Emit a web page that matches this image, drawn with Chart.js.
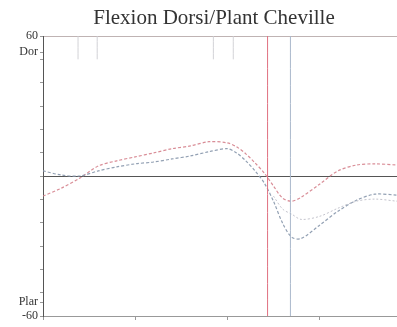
<!DOCTYPE html>
<html>
<head>
<meta charset="utf-8">
<title>Flexion Dorsi/Plant Cheville</title>
<script src="https://cdn.jsdelivr.net/npm/chart.js"></script>
<style>
  body { margin: 0; background: #fff; }
  #wrap { width: 397px; height: 327px; }
</style>
</head>
<body>
<div id="wrap"><canvas id="chevilleChart"></canvas></div>
<script>
const chartTitle = 'Flexion Dorsi/Plant Cheville';

// % of gait cycle
const pct = [0, 5, 10, 15, 20, 25, 30, 35, 40, 45, 50, 52.5, 55, 57.5, 60, 62.5, 65, 67.5, 70, 75, 80, 85, 90, 96];

// ankle angle (deg), dorsi > 0, plantar < 0
const flexRed   = [-8.6, -5.2, -0.9, 4.3, 6.5, 8.2, 9.9, 11.7, 12.9, 14.7, 14.2, 12.5, 9.5, 5.6, 1.3, -4.3, -9.5, -10.8, -9.1, -3.5, 2.2, 4.7, 5.2, 4.7];
const flexGray  = [2.2, 0.4, 0, 2.2, 3.9, 5.2, 6.0, 7.3, 8.6, 10.4, 11.7, 9.9, 6.5, 2.2, -3.0, -10.8, -20.3, -26.3, -26.8, -21.1, -15.1, -10.4, -7.8, -8.2];
const flexLight = [null, null, null, null, null, null, null, null, null, null, null, null, null, null, null, -8.6, -14.2, -16.4, -18.6, -17.3, -13.8, -10.8, -9.9, -10.8];

// toe-off markers and small event marks at the top
const toeOffRed = 60.9;
const toeOffGray = 67.1;
const eventMarks = [9.5, 14.7, 46.2, 51.6];

const yTicks = [-60, -54, -50, -40, -30, -20, -10, 0, 10, 20, 30, 40, 50, 53, 60];
const yLabels = { '60': '60', '53': 'Dor', '-54': 'Plar', '-60': '-60' };
const xTicks = [0, 25, 50, 75];

const toPoints = (vals) => pct.map((p, i) => ({ x: p, y: vals[i] }));
const vLine = (x, top, bottom) => [{ x: x, y: bottom }, { x: x, y: top }];

const datasets = [
  { data: vLine(toeOffRed, 60, -60), borderColor: '#e07080', borderWidth: 1 },
  { data: vLine(toeOffGray, 60, -60), borderColor: '#aab8cc', borderWidth: 1 },
  { data: toPoints(flexLight), borderColor: 'rgba(190,190,200,0.9)', borderWidth: 1, borderDash: [2, 2] },
  { data: toPoints(flexGray), borderColor: 'rgba(140,155,175,0.95)', borderWidth: 1.2, borderDash: [3, 2] },
  { data: toPoints(flexRed), borderColor: 'rgba(215,135,145,0.95)', borderWidth: 1.2, borderDash: [3, 2] }
];
eventMarks.forEach(x => {
  datasets.push({ data: vLine(x, 60, 50), borderColor: 'rgba(205,205,210,0.9)', borderWidth: 1 });
});
datasets.forEach(d => { d.pointRadius = 0; d.tension = 0.3; d.fill = false; });

// title sits a little right of the canvas centre in the original
const titlePlugin = {
  id: 'titleText',
  afterDraw(chart) {
    const c = chart.ctx;
    c.save();
    c.font = '21px "Liberation Serif"';
    c.fillStyle = '#333';
    c.textAlign = 'center';
    c.textBaseline = 'middle';
    c.fillText(chartTitle, 214, 18);
    c.restore();
  }
};

const ctx = document.getElementById('chevilleChart').getContext('2d');
new Chart(ctx, {
  type: 'line',
  data: { datasets: datasets },
  plugins: [titlePlugin],
  options: {
    responsive: true,
    maintainAspectRatio: false,
    animation: false,
    layout: { padding: { top: 36, right: 0, left: 0, bottom: 0 } },
    plugins: {
      legend: { display: false },
      tooltip: { enabled: false },
      title: { display: false }
    },
    scales: {
      x: {
        type: 'linear',
        min: 0,
        max: 96,
        afterBuildTicks: (scale) => { scale.ticks = xTicks.map(v => ({ value: v })); },
        afterFit: (scale) => { scale.height = 11; },
        ticks: { display: false },
        grid: { drawOnChartArea: false, tickLength: 4, tickColor: '#999' },
        border: { display: true, color: '#999', width: 1 }
      },
      y: {
        min: -60,
        max: 60,
        afterBuildTicks: (scale) => { scale.ticks = yTicks.map(v => ({ value: v })); },
        afterFit: (scale) => { scale.width = 43; },
        ticks: {
          padding: 2,
          color: '#333',
          font: { family: 'Liberation Serif', size: 12 },
          callback: (v) => yLabels[String(v)] || ''
        },
        grid: {
          tickLength: 3,
          tickColor: '#999',
          color: (c) => c.tick && c.tick.value === 0 ? '#555' : (c.tick && c.tick.value === 60 ? 'rgba(175,160,160,0.8)' : 'rgba(0,0,0,0)'),
          lineWidth: 1
        },
        border: { display: true, color: '#555', width: 1 }
      }
    }
  }
});
</script>
</body>
</html>
